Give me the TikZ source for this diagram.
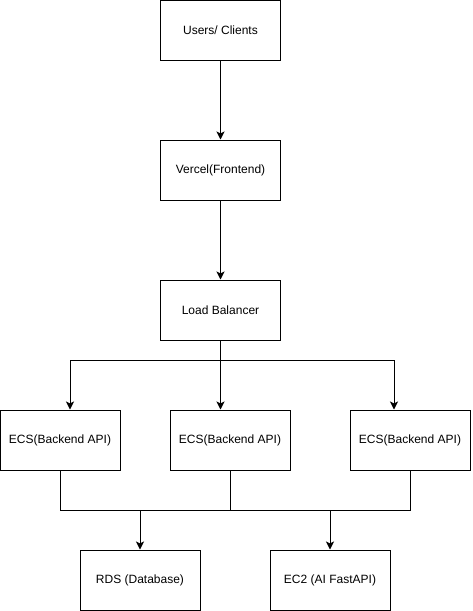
\documentclass[tikz,border=0pt]{standalone}
\usepackage{fontspec}
\setmainfont{Liberation Sans}
\usepackage{tikz}
\usetikzlibrary{calc,arrows.meta}

\tikzset{box/.style={draw,rectangle,line width=0.75pt,minimum width=90pt,minimum height=45pt,inner sep=0pt,font=\fontsize{9}{11}\selectfont}}

\begin{document}
\begin{tikzpicture}[x=0.75pt,y=-0.75pt,line width=0.75pt,>={Stealth[length=6pt,width=6pt,inset=1.5pt]}]
    \useasboundingbox (0,0) rectangle (472,611);
    \node [box] (1) at (220.5,30) {Users/ Clients};
    \node [box] (2) at (220.5,170) {Vercel(Frontend)};
    \node [box] (3) at (220.5,310) {Load Balancer};
    \node [box] (4) at (60,440) {ECS(Backend API)};
    \node [box] (5) at (230,440) {ECS(Backend API)};
    \node [box] (6) at (410,440) {ECS(Backend API)};
    \node [box] (7) at (140,580) {RDS (Database)};
    \node [box] (8) at (330,580) {EC2 (AI FastAPI)};
    \coordinate (b1) at (70,360);
    \coordinate (b2) at (394,360);
    \coordinate (c) at (0,510);

    \draw [->] (1) -- (2);
    \draw [->] (2) -- (3);
    % fan out
    \draw (3.south) -- (3.south |- b1);
    \draw (b1) -- (b2);
    \draw [->] (b1) -- (b1 |- 4.north);
    \draw [->] (3.south |- b1) -- (3.south |- 5.north);
    \draw [->] (b2) -- (b2 |- 6.north);
    % join
    \draw (4.south) -- (4.south |- c) -- (6.south |- c) -- (6.south);
    \draw (5.south) -- (5.south |- c);
    \draw [->] (7.north |- c) -- (7.north);
    \draw [->] (8.north |- c) -- (8.north);
  \end{tikzpicture}
\end{document}
